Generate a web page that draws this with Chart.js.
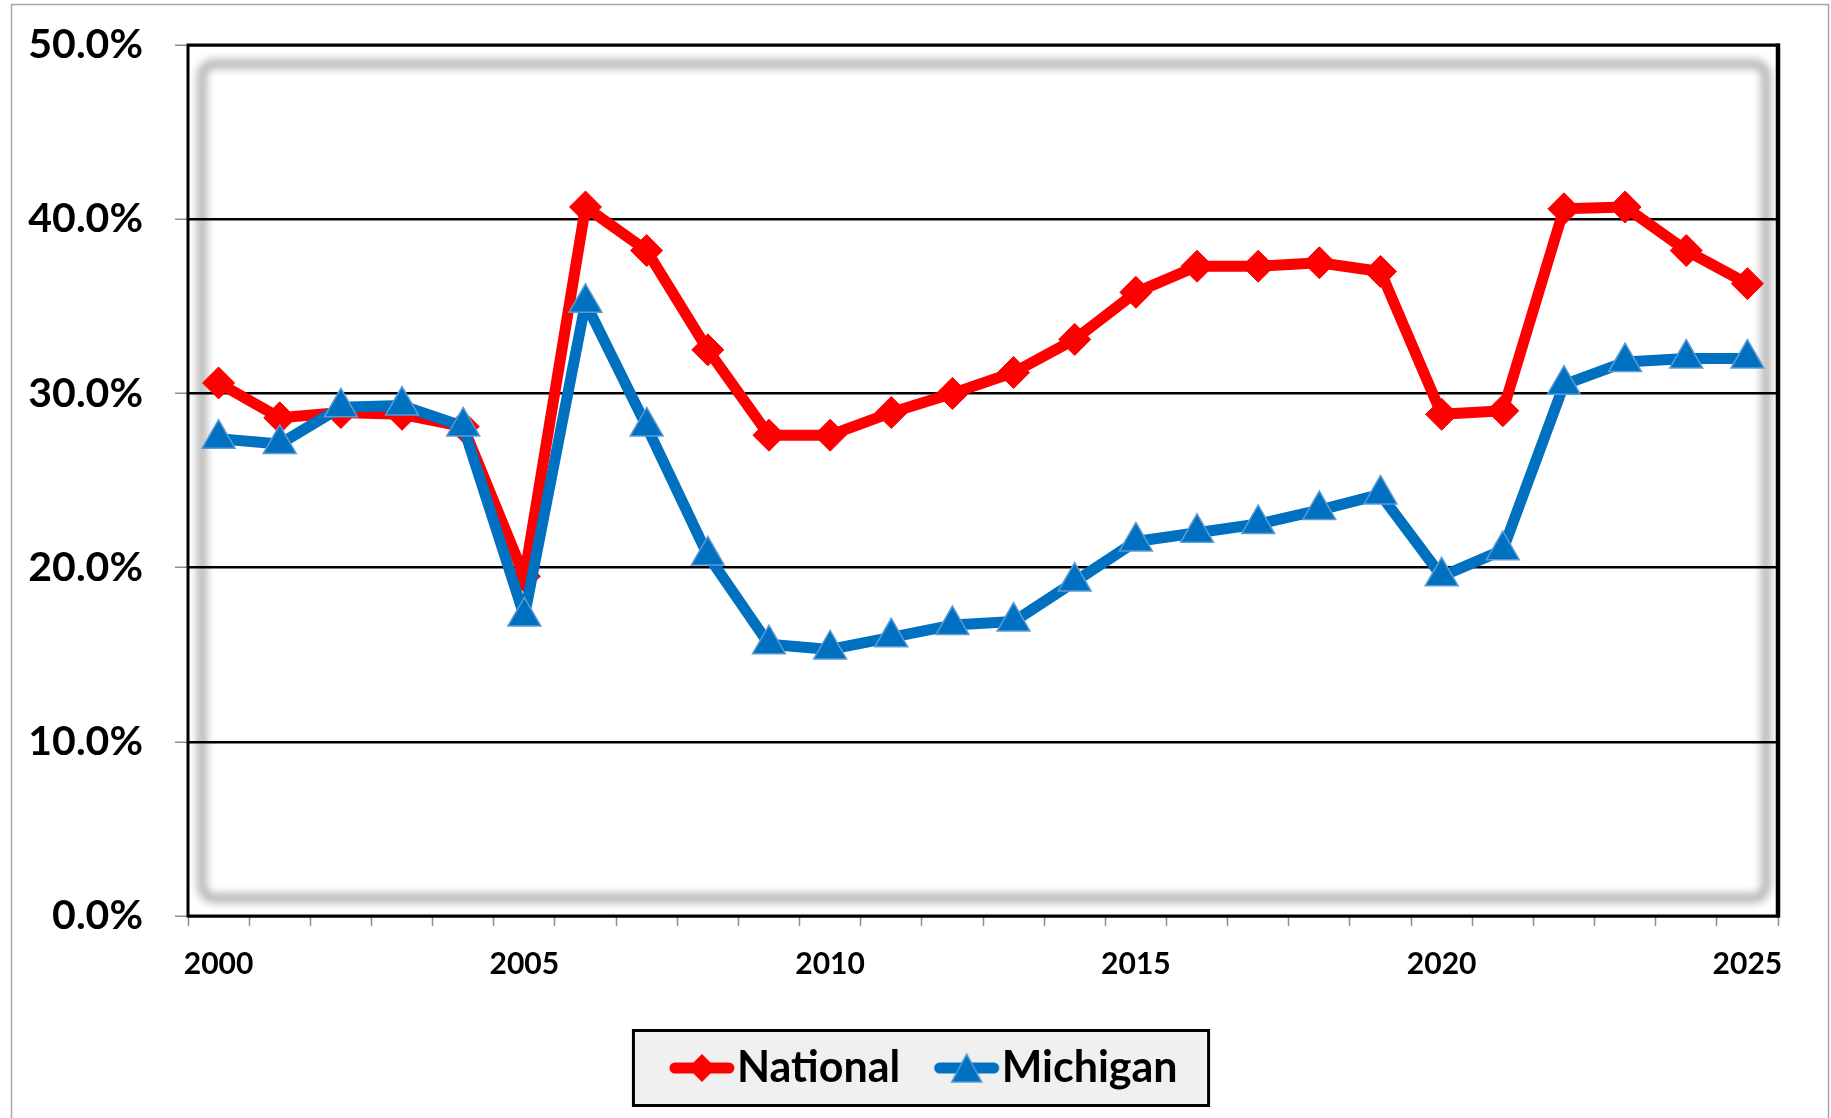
<!DOCTYPE html>
<html>
<head>
<meta charset="utf-8">
<script src="https://cdn.jsdelivr.net/npm/chart.js@4.4.1/dist/chart.umd.min.js"></script>
<style>
  html, body { margin: 0; padding: 0; background: #fff; }
  #wrap { width: 1831px; height: 1118px; position: relative; }
</style>
</head>
<body>
<div id="wrap"><canvas id="myCanvas"></canvas></div>
<script>
var years = ['2000','2001','2002','2003','2004','2005','2006','2007','2008','2009','2010','2011','2012',
             '2013','2014','2015','2016','2017','2018','2019','2020','2021','2022','2023','2024','2025']
var labeledYears = ['2000','2005','2010','2015','2020','2025']

var National = [30.6,28.6,28.9,28.8,28.1,19.5,40.7,38.2,32.5,27.6,27.6,28.9,30.0,
                31.2,33.1,35.8,37.3,37.3,37.5,37.0,28.8,29.0,40.6,40.7,38.2,36.3]
var Michigan = [27.4,27.1,29.2,29.3,28.1,17.2,35.2,28.1,20.7,15.6,15.3,16.0,16.7,
                16.9,19.2,21.5,22.0,22.5,23.3,24.2,19.5,21.0,30.5,31.8,32.0,32.0]

var RED = '#ff0000'
var BLUE = '#0070c0'

Chart.defaults.font.family = 'Lato'

// legend glyph: short line with the series marker on it
function legendIcon(color, marker) {
    var c = document.createElement('canvas')
    c.width = 72; c.height = 36
    var g = c.getContext('2d')
    g.strokeStyle = color; g.lineWidth = 11; g.lineCap = 'round'
    g.beginPath(); g.moveTo(9, 18); g.lineTo(63, 18); g.stroke()
    g.fillStyle = color
    g.beginPath()
    if (marker === 'diamond') {
        g.moveTo(36, 4); g.lineTo(50, 18); g.lineTo(36, 32); g.lineTo(22, 18)
    } else {
        g.moveTo(36, 4); g.lineTo(51, 32); g.lineTo(21, 32)
    }
    g.closePath(); g.fill()
    if (marker !== 'diamond') { g.strokeStyle = '#5b9bd5'; g.lineWidth = 1.5; g.stroke() }
    return c
}
var icons = [legendIcon(RED, 'diamond'), legendIcon(BLUE, 'triangle')]

var decor = {
    id: 'decor',
    afterLayout: function(chart) {
        // nudge the legend so it sits where the original one does
        chart.legend.left += 44
        chart.legend.right += 44
    },
    beforeDraw: function(chart) {
        var ctx = chart.ctx, a = chart.chartArea
        ctx.save()
        ctx.fillStyle = '#fff'
        ctx.fillRect(0, 0, chart.width, chart.height)
        ctx.strokeStyle = '#a6a6a6'; ctx.lineWidth = 1.5
        ctx.strokeRect(11.5, 4.5, chart.width - 14, chart.height + 10)
        // soft shadow inside the plot area
        ctx.filter = 'blur(4px)'
        ctx.strokeStyle = '#b0b0b0'; ctx.lineWidth = 9
        ctx.beginPath()
        ctx.roundRect(a.left + 14, a.top + 19, a.width - 26, a.height - 37, 12)
        ctx.stroke()
        ctx.filter = 'none'
        // legend frame
        var hb = chart.legend.legendHitBoxes
        if (hb && hb.length) {
            var f = hb[0], l = hb[hb.length - 1]
            var cy = f.top + f.height / 2
            var x0 = f.left - 55, x1 = l.left + l.width + 31
            ctx.fillStyle = '#f0f0f0'
            ctx.fillRect(x0, cy - 37.5, x1 - x0, 75)
            ctx.strokeStyle = '#000'; ctx.lineWidth = 3
            ctx.strokeRect(x0, cy - 37.5, x1 - x0, 75)
        }
        ctx.restore()
    },
    afterDraw: function(chart) {
        var ctx = chart.ctx, a = chart.chartArea
        ctx.save()
        ctx.strokeStyle = '#000'; ctx.lineWidth = 3
        ctx.strokeRect(a.left, a.top, a.width, a.height)
        ctx.lineWidth = 4.5
        ctx.beginPath(); ctx.moveTo(a.right, a.top - 1.5); ctx.lineTo(a.right, a.bottom + 1.5); ctx.stroke()
        ctx.restore()
    }
}

var ctx = document.getElementById('myCanvas')
var myChart = new Chart(ctx, {
    type: 'line',
    data: {
        labels: years,
        datasets: [
            {
                label: 'National',
                data: National,
                borderColor: RED,
                backgroundColor: RED,
                borderWidth: 11,
                borderJoinStyle: 'round',
                borderCapStyle: 'round',
                pointStyle: 'rectRot',
                pointRadius: 16,
                pointBorderWidth: 1,
                pointBorderColor: RED,
                order: 1,
                fill: false,
            },
            {
                label: 'Michigan',
                data: Michigan,
                borderColor: BLUE,
                backgroundColor: BLUE,
                borderWidth: 11,
                borderJoinStyle: 'round',
                borderCapStyle: 'round',
                pointStyle: 'triangle',
                pointRadius: 19,
                pointBorderWidth: 1.5,
                pointBorderColor: '#5b9bd5',
                order: 0,
                fill: false,
            }
        ]
    },
    options: {
        responsive: true,
        maintainAspectRatio: false,
        animation: false,
        layout: { padding: { left: 0, right: 53, top: 45, bottom: 18.5 } },
        plugins: {
            tooltip: { enabled: false },
            legend: {
                position: 'bottom',
                labels: {
                    usePointStyle: true,
                    pointStyleWidth: 27,
                    padding: 53,
                    color: '#000',
                    font: { size: 43, weight: 'bold' },
                    generateLabels: function(chart) {
                        return chart.data.datasets.map(function(ds, i) {
                            return {
                                text: ds.label,
                                pointStyle: icons[i],
                                fillStyle: 'rgba(0,0,0,0)',
                                strokeStyle: 'rgba(0,0,0,0)',
                                lineWidth: 0,
                                fontColor: '#000',
                                hidden: false,
                                datasetIndex: i
                            }
                        })
                    }
                }
            }
        },
        scales: {
            x: {
                offset: true,
                border: { display: false },
                grid: { offset: true, drawOnChartArea: false, tickLength: 10, tickColor: '#8c8c8c', tickWidth: 1.5 },
                ticks: {
                    autoSkip: false,
                    maxRotation: 0,
                    padding: 20,
                    color: '#000',
                    font: { size: 30, weight: 'bold' },
                    callback: function(v) {
                        var y = this.getLabelForValue(v)
                        return labeledYears.indexOf(y) >= 0 ? y : ''
                    }
                },
                afterFit: function(s) { s.height = 77.5 }
            },
            y: {
                min: 0,
                max: 50,
                border: { display: false },
                grid: { color: '#000', lineWidth: 2.5, tickLength: 13, tickColor: '#8c8c8c', tickWidth: 1.5 },
                ticks: {
                    stepSize: 10,
                    padding: 32,
                    color: '#000',
                    font: { size: 41, weight: 'bold' },
                    callback: function(v) { return v.toFixed(1) + '%' }
                },
                afterFit: function(s) {
                    s.width = 188
                    s.paddingTop = 0
                    s.paddingBottom = 0
                }
            }
        }
    },
    plugins: [decor]
});
</script>
</body>
</html>
